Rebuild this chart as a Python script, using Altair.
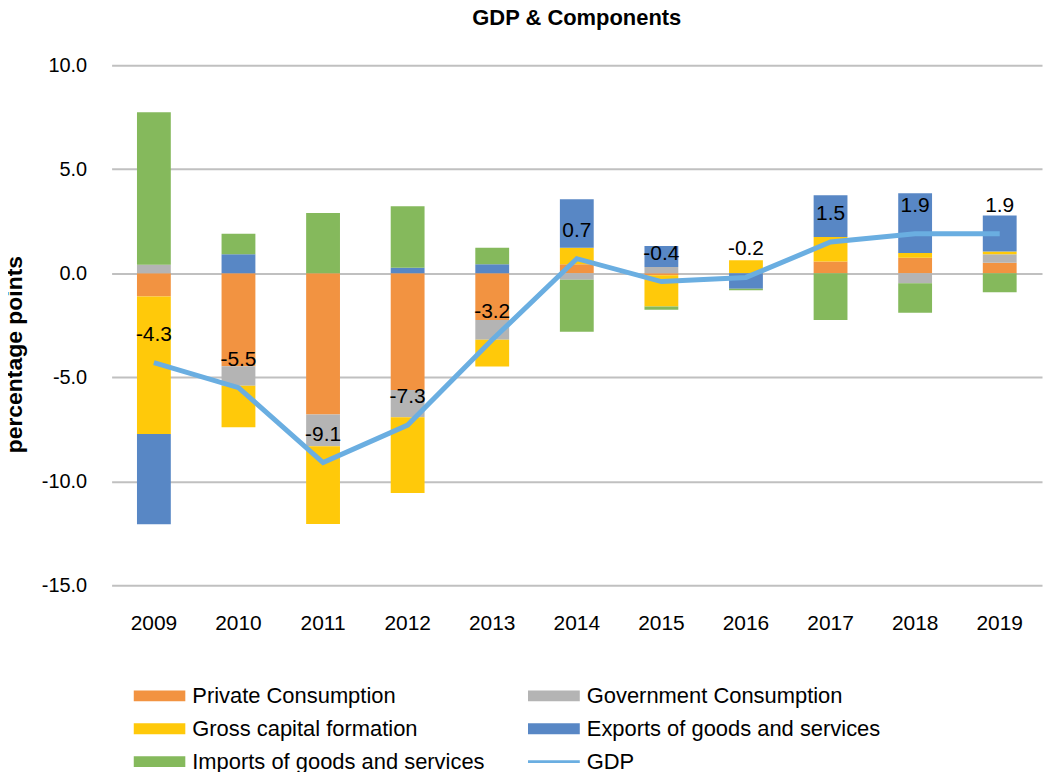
import altair as alt
import pandas as pd

years = ["2009", "2010", "2011", "2012", "2013", "2014", "2015", "2016", "2017", "2018", "2019"]
components = [
    "Private Consumption",
    "Government Consumption",
    "Gross capital formation",
    "Exports of goods and services",
    "Imports of goods and services",
]
private_cons = [-1.12, -4.47, -6.79, -5.61, -2.25, 0.43, -0.10, 0.00, 0.56, 0.75, 0.51]
gov_cons = [0.41, -0.94, -1.53, -1.31, -0.95, -0.31, 0.30, 0.00, 0.00, -0.48, 0.40]
gcf = [-6.61, -1.99, -3.74, -3.64, -1.28, 0.80, -1.50, 0.62, 1.18, 0.22, 0.13]
exports = [-4.34, 0.91, 0.00, 0.27, 0.43, 2.33, 1.01, -0.74, 2.01, 2.88, 1.74]
imports = [7.33, 0.99, 2.90, 2.95, 0.80, -2.50, -0.15, -0.08, -2.25, -1.42, -0.91]
gdp = [-4.3, -5.5, -9.1, -7.3, -3.2, 0.7, -0.4, -0.2, 1.5, 1.9, 1.9]

legend_items = components + ["GDP"]
colors = ["#F29341", "#B4B4B4", "#FFC90A", "#5887C5", "#85B95C", "#6AAEE1"]

series = [private_cons, gov_cons, gcf, exports, imports]
rows = []
for ci, (name, vals) in enumerate(zip(components, series)):
    for y, v in zip(years, vals):
        rows.append({"year": y, "component": name, "idx": ci, "value": v})
bars_df = pd.DataFrame(rows)
gdp_df = pd.DataFrame({"year": years, "gdp": gdp})

FONT = "Liberation Sans"
MINUS = "\u2212"

x_enc = alt.X(
    "year:N",
    title=None,
    scale=alt.Scale(paddingInner=0.6, paddingOuter=0.3),
    axis=alt.Axis(labelAngle=0, labelFontSize=21, labelPadding=27, ticks=False,
                  tickSize=0, domain=False, labelColor="#000000", labelFont=FONT),
)

rect_path = "M-1,-0.21H1V0.21H-1Z"
line_path = "M-1,-0.055H1V0.055H-1Z"

bars = alt.Chart(bars_df).mark_bar().encode(
    x=x_enc,
    y=alt.Y(
        "value:Q",
        stack="zero",
        title="percentage points",
        scale=alt.Scale(domain=[-15, 10], nice=False),
        axis=alt.Axis(
            values=[-15, -10, -5, 0, 5, 10], format=".1f",
            labelExpr="replace(datum.label, '" + MINUS + "', '-')",
            labelFontSize=20, labelPadding=25, ticks=False, tickSize=0, domain=False,
            gridColor="#C0C0C0", gridWidth=2, labelColor="#000000", labelFont=FONT,
            titleFontSize=23, titleFont=FONT, titleFontWeight="bold", titleColor="#000000",
            titleX=-85, titleY=290, titleAngle=270,
        ),
    ),
    color=alt.Color(
        "component:N",
        scale=alt.Scale(domain=legend_items, range=colors),
        legend=alt.Legend(
            title=None, orient="none", legendX=22, legendY=620, columns=2,
            direction="horizontal", clipHeight=26,
            columnPadding=43, rowPadding=7, labelFontSize=22, labelFont=FONT,
            labelColor="#000000", labelLimit=0, labelOffset=7, padding=0,
            symbolSize=2704, symbolStrokeWidth=0, symbolOpacity=1,
            symbolType=alt.ExprRef(
                "datum.value === 'GDP' ? '" + line_path + "' : '" + rect_path + "'"
            ),
        ),
    ),
    order=alt.Order("idx:Q", sort="ascending"),
)

line = alt.Chart(gdp_df).mark_line(strokeWidth=5, color="#6AAEE1").encode(
    x=alt.X("year:N"),
    y=alt.Y("gdp:Q"),
)

labels = alt.Chart(gdp_df).transform_calculate(
    lbl="replace(format(datum.gdp, '.1f'), '" + MINUS + "', '-')"
).mark_text(
    dy=-28, fontSize=21, font=FONT, color="#000000", baseline="middle"
).encode(
    x=alt.X("year:N"),
    y=alt.Y("gdp:Q"),
    text=alt.Text("lbl:N"),
)

chart = alt.layer(bars, line, labels).properties(
    width=934,
    height=522,
    title=alt.TitleParams("GDP & Components", fontSize=22, font=FONT,
                          fontWeight="bold", color="#000000", anchor="middle", offset=25),
    autosize=alt.AutoSizeParams(type="none"),
    padding={"left": 104, "top": 56, "right": 2, "bottom": 186},
).configure_view(stroke=None).configure_axis(grid=True).configure_axisX(grid=False)

chart.save("out.html", embed_options={"renderer": "svg", "actions": False})
